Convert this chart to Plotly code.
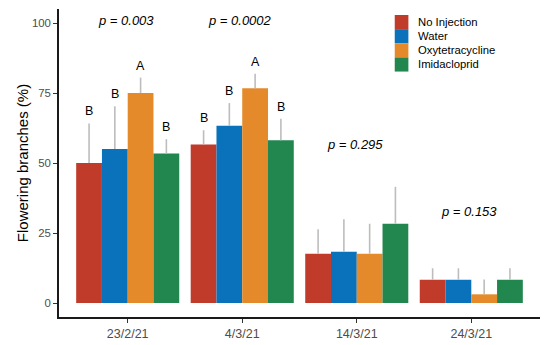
import plotly.graph_objects as go

dates = ["23/2/21", "4/3/21", "14/3/21", "24/3/21"]
treatments = ["No Injection", "Water", "Oxytetracycline", "Imidacloprid"]
colors = ["#C13B2B", "#0A72BA", "#E58A2A", "#21874F"]

# mean flowering branches (%) per treatment, over the dates
means = {
    "No Injection":    [50.0, 56.6, 17.6, 8.3],
    "Water":           [55.0, 63.3, 18.3, 8.3],
    "Oxytetracycline": [75.0, 76.7, 17.6, 3.1],
    "Imidacloprid":    [53.4, 58.1, 28.3, 8.3],
}
errors = {
    "No Injection":    [14.1, 5.1, 8.7, 4.1],
    "Water":           [15.3, 8.1, 11.6, 4.1],
    "Oxytetracycline": [5.5, 5.2, 10.7, 5.3],
    "Imidacloprid":    [5.1, 7.7, 13.2, 4.1],
}
# significance letters (empty = none)
letters = {
    "No Injection":    ["B", "B", "", ""],
    "Water":           ["B", "B", "", ""],
    "Oxytetracycline": ["A", "A", "", ""],
    "Imidacloprid":    ["B", "B", "", ""],
}
p_labels = ["p = 0.003", "p = 0.0002", "p = 0.295", "p = 0.153"]
p_label_y = [100.9, 100.9, 56.6, 32.8]

FONT = "Liberation Sans, Arial, sans-serif"

fig = go.Figure()
for t, c in zip(treatments, colors):
    fig.add_trace(go.Bar(
        name=t, x=dates, y=means[t], marker=dict(color=c, line=dict(width=0)),
        error_y=dict(type="data", symmetric=False, array=errors[t],
                     arrayminus=[0] * len(dates), color="#BDBDBD",
                     thickness=1.6, width=0),
        showlegend=False,
    ))

n = len(treatments)
bargap = 0.1
bw = (1 - bargap) / n
annotations = []
for i, t in enumerate(treatments):
    off = -(1 - bargap) / 2 + bw * (i + 0.5)
    for j, d in enumerate(dates):
        if letters[t][j]:
            annotations.append(dict(
                x=j + off, y=means[t][j] + errors[t][j] + 4.3, xref="x", yref="y",
                text=letters[t][j], showarrow=False, yanchor="middle",
                font=dict(family=FONT, size=12.5, color="black")))
for j, (lab, py) in enumerate(zip(p_labels, p_label_y)):
    annotations.append(dict(
        x=j, y=py, xref="x", yref="y", xshift=-2,
        text="<i>" + lab + "</i>", showarrow=False,
        yanchor="middle", font=dict(family=FONT, size=13, color="black")))

# manual legend (compact, ggplot-like)
shapes = []
lx0, lx1, ltext = 0.698, 0.7264, 0.743
ltop, lrow = 0.9805, 0.0459
for i, (t, c) in enumerate(zip(treatments, colors)):
    y1 = ltop - i * lrow
    y0 = y1 - lrow
    shapes.append(dict(type="rect", xref="paper", yref="paper", x0=lx0, x1=lx1,
                       y0=y0, y1=y1, fillcolor=c, line=dict(width=0)))
    annotations.append(dict(x=ltext, y=(y0 + y1) / 2, xref="paper", yref="paper",
                            text=t, showarrow=False, xanchor="left", yanchor="middle",
                            font=dict(family=FONT, size=11.3, color="black")))

fig.update_layout(
    template="none",
    width=550, height=345,
    margin=dict(l=59, r=9.6, t=9, b=27.5, autoexpand=False),
    paper_bgcolor="white", plot_bgcolor="white",
    barmode="group", bargap=bargap, bargroupgap=0,
    showlegend=False,
    annotations=annotations, shapes=shapes,
    font=dict(family=FONT),
)
fig.update_xaxes(
    automargin=False,
    range=[-0.6, 3.6], showgrid=False, zeroline=False,
    showline=True, linecolor="#1a1a1a", linewidth=1.6,
    ticks="outside", ticklen=4, tickcolor="#333333", tickwidth=1.2,
    tickfont=dict(family=FONT, size=12.5, color="#4D4D4D"),
)
fig.update_yaxes(
    automargin=False,
    range=[-5, 105], tickvals=[0, 25, 50, 75, 100],
    showgrid=False, zeroline=False,
    showline=True, linecolor="#1a1a1a", linewidth=1.6,
    ticks="outside", ticklen=4, tickcolor="#333333", tickwidth=1.2,
    tickfont=dict(family=FONT, size=11.4, color="#4D4D4D"),
    title=dict(text="Flowering branches (%)", standoff=0,
               font=dict(family=FONT, size=15, color="black")),
)

fig.write_html("out.html",
               config={"displayModeBar": False},
               post_script="document.body.style.margin='0';document.body.style.overflow='hidden';")
